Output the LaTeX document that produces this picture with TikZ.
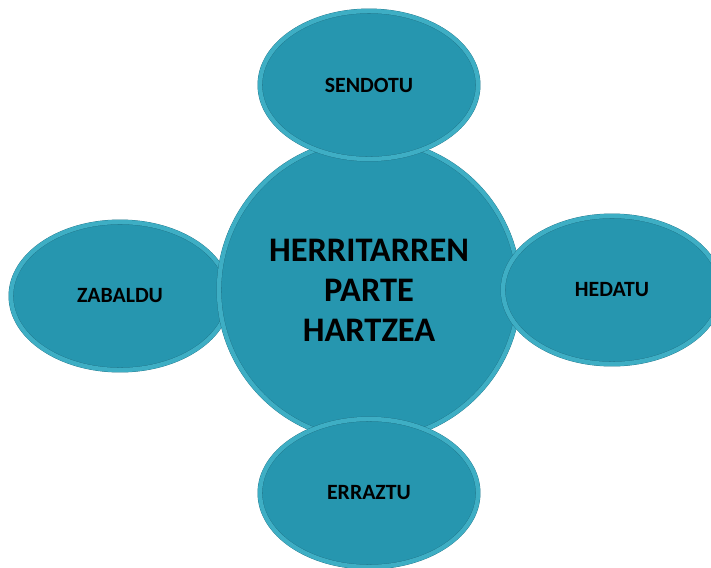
\documentclass[tikz,border=0pt]{standalone}
\usepackage{fontspec}
\setmainfont{Carlito}
\usetikzlibrary{shapes.geometric,positioning,backgrounds}

\definecolor{tealfill}{RGB}{38,150,175}
\definecolor{tealrim}{RGB}{62,174,196}
\definecolor{tealedge}{RGB}{30,110,130}

\begin{document}
\begin{tikzpicture}[x=0.05cm,y=-0.05cm,on grid,
        blob/.style={draw=tealedge,line width=0.4pt,double=tealrim,
          double distance=0.22cm,fill=tealfill,text=black,
          font=\bfseries\fontsize{31}{37}\selectfont,align=center},
        petal/.style={blob,ellipse,minimum width=10.9cm,minimum height=7.4cm},
        hubcircle/.style={blob,circle,minimum size=15cm,
          font=\bfseries\fontsize{49}{57}\selectfont}]

  \useasboundingbox (0,0) rectangle (711,567);

  \node[hubcircle] (hub) at (369,290) {HERRITARREN\\PARTE\\HARTZEA};

  % left one sits behind the big circle
  \begin{scope}[on background layer]
    \node[petal] (zabaldu) [left=12.45cm of hub, yshift=-0.3cm] {ZABALDU};
  \end{scope}

  \node[petal] (sendotu) [above=10.25cm of hub] {SENDOTU};
  \node[petal] (hedatu) [right=12.15cm of hub] {HEDATU};
  \node[petal] (erraztu) [below=10.15cm of hub] {ERRAZTU};

\end{tikzpicture}
\end{document}
